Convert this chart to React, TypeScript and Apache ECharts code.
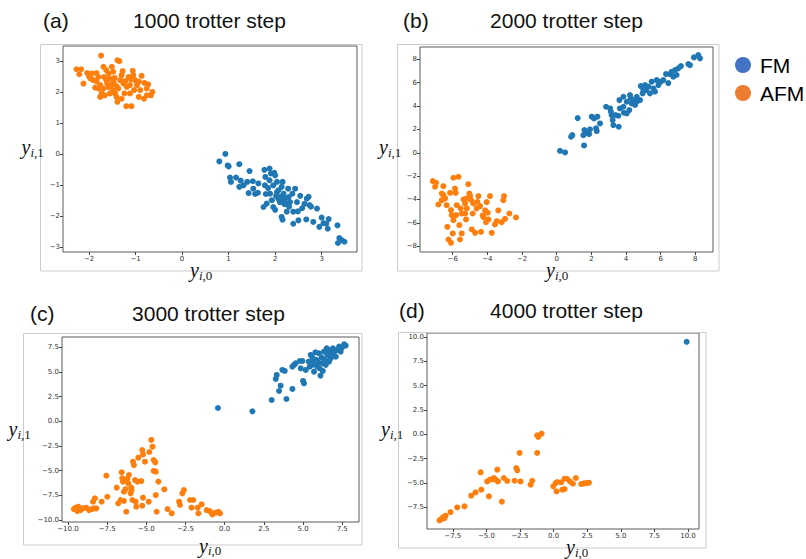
import React, { useEffect, useRef } from "react";
import * as echarts from "echarts";

// ---------- data ----------
const A_FM: number[][] = [
  [0.80,-0.24],[0.93,0.00],[0.98,-0.37],[1.00,-0.40],[1.03,-0.76],[1.05,-0.90],[1.16,-0.76],[1.23,-0.33],
  [1.26,-0.86],[1.23,-1.06],[1.32,-1.01],[1.40,-0.90],[1.45,-0.55],[1.43,-1.26],[1.52,-0.88],[1.53,-1.12],
  [1.57,-1.29],[1.63,-1.25],[1.64,-0.95],[1.77,-0.51],[1.80,-1.29],[1.82,-1.60],[1.79,-0.74],[1.78,-1.01],
  [1.88,-0.47],[1.91,-0.63],[1.98,-0.61],[2.00,-0.69],[1.89,-1.28],[1.93,-1.49],[1.96,-1.71],[2.00,-1.80],
  [2.04,-1.23],[2.11,-1.39],[2.14,-1.06],[2.16,-0.90],[2.18,-1.28],[2.21,-1.44],[2.25,-1.60],[2.14,-2.03],
  [2.16,-2.12],[2.25,-1.86],[2.29,-1.39],[2.32,-1.55],[2.37,-1.28],[2.43,-1.12],[2.39,-1.86],[2.47,-1.55],
  [2.49,-1.85],[2.39,-2.25],[2.50,-2.14],[2.54,-1.35],[2.58,-1.75],[2.63,-1.61],[2.67,-2.11],[2.68,-1.44],
  [2.72,-1.38],[2.74,-1.65],[2.77,-1.70],[2.82,-2.19],[2.90,-1.76],[2.95,-2.35],[3.00,-2.05],[3.04,-2.23],
  [3.10,-2.25],[3.13,-2.41],[3.15,-2.10],[3.34,-2.30],[3.35,-2.87],[3.38,-2.71],[3.43,-2.78],[3.49,-2.83],
  [2.04,-0.90],[2.07,-1.44],[2.28,-1.12],[2.07,-1.17],[2.18,-1.49],[1.88,-0.85],[1.96,-1.01],[1.75,-1.71],
  [2.10,-1.55],[2.20,-1.62],[2.30,-1.70],[2.02,-1.35],[1.85,-1.10]
];
const A_AFM: number[][] = [
  [-1.74,3.17],[-2.27,2.73],[-2.17,2.73],[-2.21,2.57],[-2.12,2.27],[-2.04,2.61],[-1.94,2.59],[-1.84,2.61],
  [-1.80,2.48],[-1.76,2.22],[-1.84,2.34],[-1.91,2.38],[-1.76,1.84],[-1.80,2.11],[-1.69,2.11],[-1.66,1.89],
  [-1.69,2.81],[-1.63,2.70],[-1.58,2.59],[-1.56,2.43],[-1.51,2.81],[-1.48,2.65],[-1.61,2.27],[-1.52,2.22],
  [-1.48,2.05],[-1.44,1.95],[-1.41,1.84],[-1.39,1.68],[-1.39,3.02],[-1.35,2.99],[-1.33,2.38],[-1.30,2.54],
  [-1.28,2.67],[-1.26,2.27],[-1.24,1.95],[-1.20,1.54],[-1.15,2.48],[-1.12,2.22],[-1.09,1.54],[-1.06,2.68],
  [-1.05,2.54],[-1.01,2.38],[-1.03,2.06],[-0.97,2.22],[-0.93,1.84],[-0.90,2.06],[-0.87,2.52],[-0.81,2.29],
  [-0.76,2.11],[-0.73,2.24],[-0.82,1.78],[-0.67,1.89],[-0.64,2.00],[-1.41,2.19],[-1.47,2.33],[-1.37,2.11],
  [-1.63,2.38],[-1.97,2.43],[-1.87,2.14],[-1.73,1.96],[-1.55,1.95],[-1.30,1.78],[-1.19,2.16],[-1.12,1.95],
  [-0.93,2.33],[-0.76,1.89],[-1.58,2.15],[-1.45,2.45],[-1.22,2.35],[-1.68,2.48],[-2.00,2.50],[-1.10,2.40]
];
const B_FM: number[][] = [
  [0.19,0.17],[0.48,0.03],[0.83,1.37],[0.90,1.51],[1.21,2.97],[1.58,0.63],[1.54,1.51],[1.60,1.94],
  [1.73,1.71],[1.87,1.60],[1.92,2.00],[2.02,3.09],[2.15,2.94],[2.27,2.09],[2.31,1.86],[2.35,3.09],
  [2.50,2.51],[2.85,3.94],[3.08,3.80],[3.13,3.51],[3.17,3.23],[3.23,2.80],[3.27,2.37],[3.40,3.23],
  [3.56,3.17],[3.58,2.23],[3.65,3.80],[3.62,4.51],[3.85,4.80],[3.88,3.43],[4.04,4.37],[4.19,3.66],
  [4.23,4.94],[4.27,4.66],[4.33,4.23],[4.42,4.51],[4.52,4.09],[4.62,4.37],[4.81,4.51],[4.96,5.09],
  [5.10,5.80],[5.15,5.37],[5.29,5.66],[5.38,5.09],[5.48,6.09],[5.58,5.51],[5.67,5.23],[5.77,6.23],
  [5.87,5.80],[6.00,6.09],[6.15,6.23],[6.31,6.74],[6.44,5.97],[6.54,6.74],[6.63,6.94],[6.73,6.51],
  [6.83,7.09],[6.92,6.66],[7.02,7.23],[7.17,7.43],[7.60,7.60],[7.69,7.51],[7.92,8.17],[8.17,8.37],
  [8.27,8.09],[4.85,5.71],[5.00,5.37],[3.85,3.94],[4.62,4.80],[4.04,3.37]
];
const B_AFM: number[][] = [
  [-7.15,-2.43],[-6.96,-2.57],[-7.02,-2.91],[-6.83,-4.43],[-6.63,-3.49],[-6.54,-3.63],[-6.63,-4.06],[-6.54,-2.86],
  [-6.44,-3.91],[-6.35,-4.49],[-6.31,-6.34],[-6.25,-7.43],[-6.15,-3.43],[-6.10,-4.91],[-6.06,-5.34],[-5.96,-2.14],
  [-5.96,-5.77],[-6.00,-6.91],[-6.10,-7.71],[-5.87,-3.06],[-5.83,-3.43],[-5.77,-4.49],[-5.67,-2.06],[-5.62,-6.20],
  [-5.58,-7.43],[-5.54,-4.77],[-5.48,-5.20],[-5.38,-4.00],[-5.29,-4.34],[-5.23,-5.71],[-5.19,-4.77],[-5.10,-2.69],
  [-5.00,-3.71],[-4.94,-4.06],[-4.90,-6.57],[-4.85,-5.20],[-4.81,-4.34],[-4.71,-6.86],[-4.62,-4.77],[-4.52,-3.71],
  [-4.42,-4.57],[-4.37,-6.77],[-4.27,-5.37],[-4.13,-4.94],[-4.08,-5.94],[-4.04,-4.23],[-3.98,-5.14],[-3.94,-5.71],
  [-3.85,-3.71],[-3.75,-6.86],[-3.56,-6.14],[-3.46,-5.86],[-3.37,-4.94],[-3.17,-5.94],[-3.08,-4.06],[-3.04,-3.71],
  [-2.98,-5.66],[-2.73,-5.20],[-2.35,-5.54],[-5.48,-6.91],[-5.04,-3.49],[-5.81,-5.34],[-5.29,-5.20],[-4.58,-4.20],
  [-4.23,-5.51],[-5.19,-3.91]
];
const C_FM: number[][] = [
  [-0.43,1.35],[1.77,1.01],[3.00,2.16],[3.94,2.26],[3.47,3.07],[3.57,3.61],[3.26,4.29],[3.32,4.70],
  [3.68,5.20],[3.83,5.10],[4.32,3.28],[4.32,5.54],[4.43,5.71],[4.53,5.88],[4.79,6.11],[4.96,6.11],
  [5.00,4.09],[5.06,3.85],[4.85,5.37],[5.17,5.20],[5.43,5.54],[5.49,6.72],[5.60,6.45],[5.64,5.74],
  [5.70,5.03],[5.79,6.99],[5.85,6.22],[5.98,5.98],[6.06,5.37],[6.11,4.63],[6.19,6.45],[6.26,5.10],
  [6.34,7.06],[6.40,6.22],[6.45,5.71],[6.55,6.72],[6.65,7.23],[6.77,6.39],[6.83,6.89],[6.91,7.40],
  [6.98,6.66],[7.09,6.55],[7.19,7.23],[7.30,7.57],[7.40,7.06],[7.49,7.47],[7.62,7.80],[7.72,7.67],
  [6.02,6.89],[6.51,7.40],[5.70,6.11],[5.36,6.05],[6.23,5.88],[6.66,6.05],[7.04,7.13],[5.91,5.54]
];
const C_AFM: number[][] = [
  [-9.51,-8.75],[-9.62,-8.89],[-9.34,-8.65],[-9.19,-8.99],[-9.04,-8.82],[-8.83,-8.75],[-8.66,-8.99],[-8.49,-8.89],
  [-8.34,-8.82],[-8.40,-8.14],[-8.28,-7.80],[-7.85,-8.14],[-7.55,-5.51],[-7.49,-7.64],[-6.89,-6.72],[-6.79,-8.31],
  [-6.64,-7.97],[-6.57,-5.17],[-6.53,-5.78],[-6.49,-6.11],[-6.43,-7.13],[-6.32,-6.86],[-6.28,-9.16],[-6.21,-5.84],
  [-6.11,-5.44],[-6.00,-7.30],[-5.96,-6.72],[-5.89,-7.97],[-5.85,-4.09],[-5.79,-4.43],[-5.72,-5.95],[-5.68,-8.14],
  [-5.64,-8.65],[-5.51,-3.68],[-5.32,-6.05],[-5.26,-2.91],[-5.21,-3.35],[-5.26,-8.55],[-5.21,-7.74],[-5.09,-4.09],
  [-4.85,-8.14],[-4.81,-3.11],[-4.68,-1.89],[-4.60,-2.57],[-4.53,-3.92],[-4.43,-4.16],[-4.53,-5.03],[-4.40,-5.10],
  [-4.34,-9.16],[-4.23,-6.11],[-4.40,-7.47],[-3.85,-6.89],[-3.64,-8.89],[-3.38,-9.32],[-2.91,-8.14],[-2.85,-8.48],
  [-2.60,-6.96],[-2.70,-7.30],[-2.21,-7.97],[-2.11,-8.75],[-2.00,-7.97],[-1.72,-8.75],[-1.68,-9.32],[-1.47,-8.41],
  [-1.15,-8.99],[-0.94,-9.09],[-0.79,-9.43],[-0.57,-9.26],[-0.40,-9.16],[-0.30,-9.32],[-6.15,-6.28],[-5.57,-6.11],
  [-5.94,-6.96],[-6.43,-8.07],[-8.19,-8.82],[-9.40,-9.09]
];
const D_FM: number[][] = [[9.90,9.52]];
const D_AFM: number[][] = [
  [-8.49,-8.87],[-8.36,-8.73],[-8.21,-8.52],[-8.11,-8.63],[-8.04,-8.38],[-7.67,-8.01],[-7.17,-7.53],[-6.63,-7.42],
  [-6.13,-6.32],[-5.81,-5.98],[-5.43,-3.92],[-5.38,-5.70],[-4.94,-4.85],[-4.81,-6.39],[-4.74,-4.67],[-4.57,-4.60],
  [-4.44,-4.50],[-4.32,-4.67],[-4.19,-3.64],[-4.14,-4.85],[-3.85,-6.94],[-3.70,-4.50],[-3.45,-4.81],[-2.90,-4.78],
  [-2.78,-3.47],[-2.70,-3.71],[-2.53,-1.92],[-2.46,-4.85],[-1.71,-5.19],[-1.59,-4.78],[-1.22,-1.92],[-1.22,-0.10],
  [-1.14,-0.27],[-0.89,0.07],[-0.02,-5.36],[0.15,-5.02],[0.27,-4.91],[0.22,-5.88],[0.57,-4.94],[0.65,-5.70],
  [0.82,-5.64],[0.82,-4.57],[1.02,-4.60],[1.22,-4.85],[1.44,-5.09],[1.66,-4.50],[2.06,-5.12],[2.26,-5.05],
  [2.46,-5.02],[2.63,-4.98]
];

const A_X_TICKS = [-2, -1, 0, 1, 2, 3];
const A_Y_TICKS = [-3, -2, -1, 0, 1, 2, 3];
const B_X_TICKS = [-6, -4, -2, 0, 2, 4, 6, 8];
const B_Y_TICKS = [-8, -6, -4, -2, 0, 2, 4, 6, 8];
const C_X_TICKS = [-10, -7.5, -5, -2.5, 0, 2.5, 5, 7.5];
const C_Y_TICKS = [-10, -7.5, -5, -2.5, 0, 2.5, 5, 7.5];
const D_X_TICKS = [-7.5, -5, -2.5, 0, 2.5, 5, 7.5, 10];
const D_Y_TICKS = [-7.5, -5, -2.5, 0, 2.5, 5, 7.5, 10];

const PANEL_TAGS = ["(a)", "(b)", "(c)", "(d)"];
const PANEL_TITLES = ["1000 trotter step", "2000 trotter step", "3000 trotter step", "4000 trotter step"];
const LEGEND_NAMES = ["FM", "AFM"];

// ---------- layout / style ----------
const FM_COLOR = "#1f77b4";
const AFM_COLOR = "#ff7f0e";
const FRAME = "#5a5a5a";
const LIGHT = "#cccccc";

const fmt = (dec: number) => (v: number) => {
  const s = Math.abs(v).toFixed(dec);
  return v < -1e-9 ? "\u2212" + s : s;
};

const panels = [
  { grid: { left: 63, top: 46, width: 294, height: 206 }, x: [-2.56, 3.76], y: [-3.16, 3.48], xt: A_X_TICKS, yt: A_Y_TICKS, dec: 0, fm: A_FM, afm: A_AFM },
  { grid: { left: 420, top: 47, width: 293, height: 205 }, x: [-7.89, 9.02], y: [-8.5, 9.06], xt: B_X_TICKS, yt: B_Y_TICKS, dec: 0, fm: B_FM, afm: B_AFM },
  { grid: { left: 62, top: 337, width: 297, height: 185 }, x: [-10.38, 8.57], y: [-10.2, 8.54], xt: C_X_TICKS, yt: C_Y_TICKS, dec: 1, fm: C_FM, afm: C_AFM },
  { grid: { left: 427, top: 333, width: 272, height: 196 }, x: [-9.42, 10.82], y: [-9.75, 10.43], xt: D_X_TICKS, yt: D_Y_TICKS, dec: 1, fm: D_FM, afm: D_AFM },
];

const outerFrames = [
  { x: 40.5, y: 44.5, w: 321.5, h: 226.5 },
  { x: 397.5, y: 44.5, w: 321.5, h: 226.5 },
  { x: 23.5, y: 333.5, w: 338.5, h: 211.5 },
  { x: 398.5, y: 332.5, w: 307.5, h: 215.5 },
];

const titlePos = [
  { tx: 43, cx: 209.5, y: 20.5 },
  { tx: 403, cx: 566.5, y: 20.5 },
  { tx: 30, cx: 208.5, y: 313 },
  { tx: 399, cx: 566.5, y: 310 },
];

// [x of "y" glyph, baseline, subscript digit]
const mathLabels: [number, number, string][] = [
  [21.5, 154, "1"], [190, 277, "0"],
  [379, 154, "1"], [546, 277, "0"],
  [8.5, 436, "1"], [199, 552.5, "0"],
  [381, 436, "1"], [566, 554, "0"],
];

function axis(idx: number, range: number[], ticks: number[], dec: number, isX: boolean) {
  return {
    type: "value",
    gridIndex: idx,
    position: isX ? "bottom" : "left",
    min: range[0],
    max: range[1],
    axisLine: { show: false, onZero: false },
    splitLine: { show: false },
    axisTick: { show: true, length: 3, lineStyle: { color: "#444", width: 1 }, customValues: ticks },
    axisLabel: {
      show: true,
      customValues: ticks,
      formatter: fmt(dec),
      fontSize: 7,
      fontFamily: "DejaVu Sans",
      color: "#333",
      margin: 3,
    },
  };
}

function textEl(x: number, y: number, text: string, font: string, align = "left") {
  return {
    type: "text",
    x,
    y,
    silent: true,
    style: { text, font, fill: "#111", textAlign: align, textVerticalAlign: "middle", align, verticalAlign: "middle" },
  };
}

export default function App() {
  const ref = useRef<HTMLDivElement>(null);
  useEffect(() => {
    if (!ref.current) return;
    const chart = echarts.init(ref.current, undefined, { renderer: "svg" });

    const graphic: any[] = [];
    outerFrames.forEach((f) => {
      graphic.push({ type: "rect", silent: true, shape: { x: f.x, y: f.y, width: f.w, height: f.h }, style: { fill: "none", stroke: LIGHT, lineWidth: 1 } });
    });
    titlePos.forEach((p, i) => {
      graphic.push(textEl(p.tx, p.y, PANEL_TAGS[i], "21px 'Liberation Sans'"));
      graphic.push(textEl(p.cx, p.y, PANEL_TITLES[i], "21px 'Liberation Sans'", "center"));
    });
    mathLabels.forEach(([x, base, digit]) => {
      const subC = base + 2.5 - 4.4;
      graphic.push(textEl(x, base - 6.8, "y", "italic 20px 'Liberation Serif'"));
      graphic.push(textEl(x + 9, subC, "i", "italic 13px 'Liberation Serif'"));
      graphic.push(textEl(x + 12.6, subC, "," + digit, "13px 'Liberation Serif'"));
    });

    const series: any[] = [];
    panels.forEach((p, i) => {
      series.push({ type: "scatter", name: "FM", xAxisIndex: i, yAxisIndex: i, data: p.fm, symbolSize: 6, itemStyle: { color: FM_COLOR, opacity: 1 }, silent: true });
      series.push({ type: "scatter", name: "AFM", xAxisIndex: i, yAxisIndex: i, data: p.afm, symbolSize: 6, itemStyle: { color: AFM_COLOR, opacity: 1 }, silent: true });
    });

    chart.setOption({
      animation: false,
      backgroundColor: "#ffffff",
      grid: panels.map((p) => ({ ...p.grid, show: true, borderColor: FRAME, borderWidth: 1, backgroundColor: "transparent", containLabel: false })),
      xAxis: panels.map((p, i) => axis(i, p.x, p.xt, p.dec, true)),
      yAxis: panels.map((p, i) => axis(i, p.y, p.yt, p.dec, false)),
      legend: {
        orient: "vertical",
        left: 730,
        top: 49,
        itemWidth: 16,
        itemHeight: 16,
        itemGap: 6,
        icon: "circle",
        selectedMode: false,
        textStyle: { fontSize: 21, lineHeight: 22, fontFamily: "Liberation Sans", color: "#000", padding: [0, 0, 0, 4] },
        data: [
          { name: LEGEND_NAMES[0], itemStyle: { color: "#4472C4" } },
          { name: LEGEND_NAMES[1], itemStyle: { color: "#ED7D31" } },
        ],
      },
      graphic,
      series,
    });
    return () => chart.dispose();
  }, []);
  return <div ref={ref} style={{ position: "absolute", left: 0, top: 0, width: 806, height: 559 }} />;
}
